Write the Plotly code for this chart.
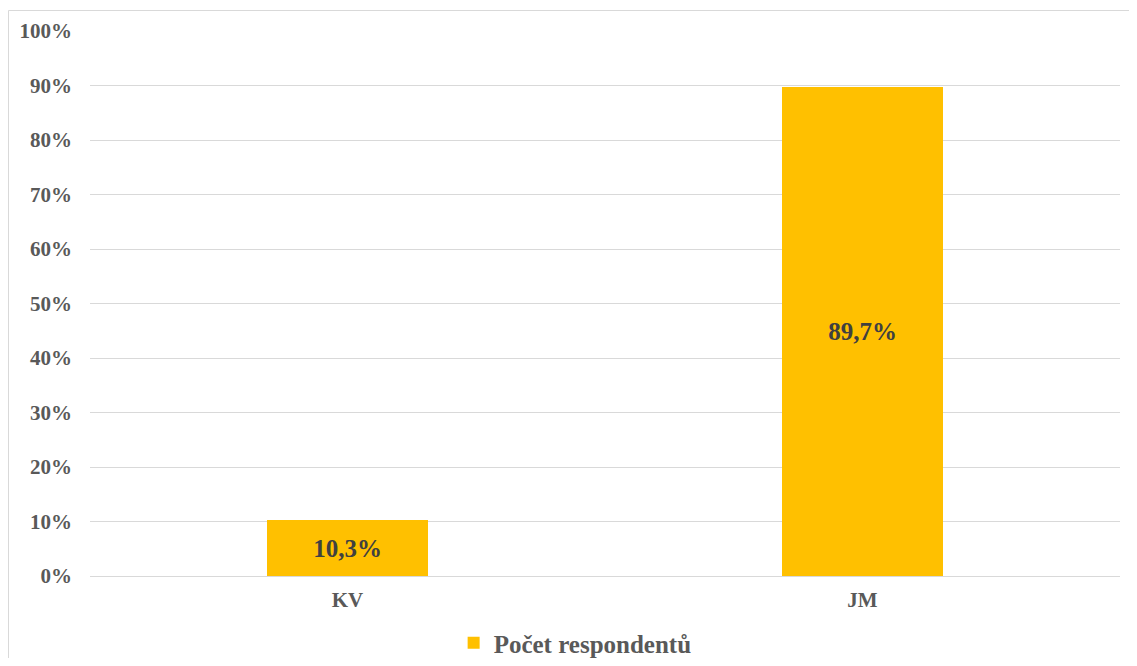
import plotly.graph_objects as go

categories = ["KV", "JM"]
values = [10.3, 89.7]
labels = ["10,3%", "89,7%"]
series_name = "Počet respondentů"
tick_vals = [0, 10, 20, 30, 40, 50, 60, 70, 80, 90, 100]
tick_text = [f"{v}%" for v in tick_vals]

FONT = "Liberation Serif"

# page body has an 8px default margin, so the figure is shifted by 8px
W, H = 1121, 650
L, T = 82, 23
PW, PH = 1030, 545

fig = go.Figure()
fig.add_trace(go.Bar(
    x=categories, y=values, name="<b>" + series_name + "</b>",
    marker=dict(color="#FFC000", line=dict(width=0)),
    width=0.3126,
    text=labels, textposition="inside", insidetextanchor="middle",
    textfont=dict(family=FONT, size=25, color="#404040"),
    texttemplate="<b>%{text}</b>",
    showlegend=True,
))

fig.update_layout(
    width=W, height=H,
    margin=dict(l=L, r=W - L - PW, t=T, b=H - T - PH, autoexpand=False),
    plot_bgcolor="white", paper_bgcolor="white",
    font=dict(family=FONT, color="#595959"),
    xaxis=dict(
        tickfont=dict(family=FONT, size=21, color="#595959"),
        tickvals=categories,
        ticktext=[f"<b>{c}</b>" for c in categories],
        showgrid=False, showline=False, ticks="",
        ticklabelstandoff=9,
    ),
    yaxis=dict(
        range=[0, 100], tickvals=tick_vals,
        ticktext=[f"<b>{t}</b>" for t in tick_text],
        tickfont=dict(family=FONT, size=21, color="#595959"),
        showgrid=True, gridcolor="#D9D9D9", gridwidth=1,
        zeroline=True, zerolinecolor="#D9D9D9", zerolinewidth=1,
        ticks="", ticklabelstandoff=17,
    ),
    bargap=0,
    showlegend=True,
    legend=dict(
        orientation="h", x=0.471, xanchor="center",
        y=-0.123, yanchor="middle",
        font=dict(family=FONT, size=25, color="#595959"),
        itemwidth=30,
    ),
)

fig.add_shape(
    type="rect", xref="paper", yref="paper",
    x0=(0.5 - L) / PW, x1=1.06, y0=-0.25, y1=(T + PH - 2.5) / PH,
    line=dict(color="#D9D9D9", width=1), fillcolor="rgba(0,0,0,0)",
    layer="below",
)

fig.write_html("out.html")
